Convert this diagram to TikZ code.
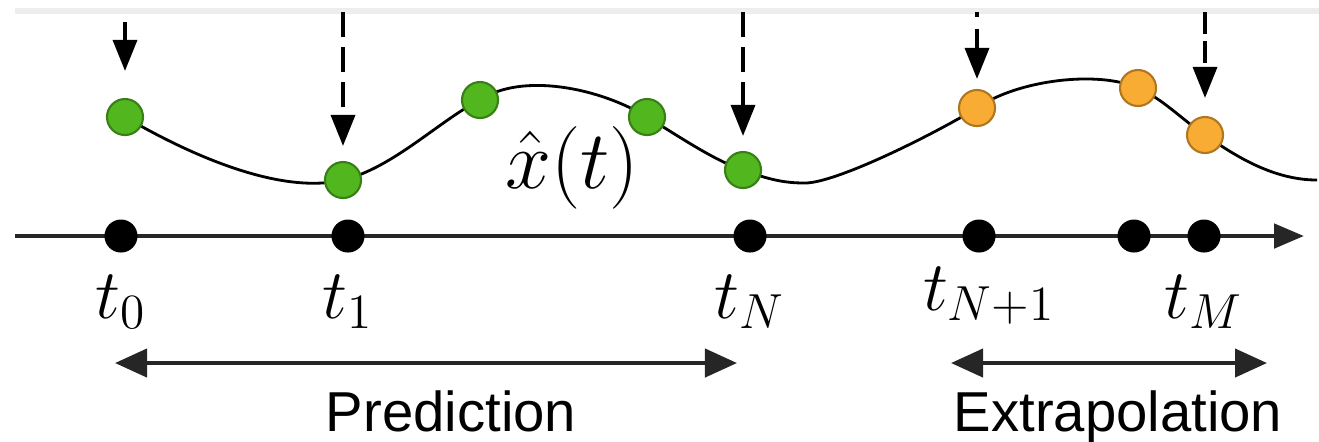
\RequirePackage{fix-cm}
\documentclass[tikz,border=0pt]{standalone}
\usepackage{fontspec}
\setsansfont{Liberation Sans}
\usepackage{amsmath}
\usetikzlibrary{arrows.meta, positioning}

\definecolor{obsgreen}{RGB}{82,182,30}
\definecolor{obsgreenline}{RGB}{56,128,22}
\definecolor{extorange}{RGB}{248,172,52}
\definecolor{extorangeline}{RGB}{176,118,32}

\begin{document}
\begin{tikzpicture}[
  x=0.01cm, y=-0.01cm,
  tdot/.style={circle, fill=black, inner sep=0pt, minimum size=0.33cm},
  obs/.style={circle, draw=obsgreenline, fill=obsgreen, line width=0.6pt, inner sep=0pt, minimum size=0.36cm},
  ext/.style={obs, draw=extorangeline, fill=extorange},
  tlabel/.style={inner sep=0pt, font=\fontsize{20}{24}\selectfont},
  axisline/.style={draw, ->, line width=1.4pt, draw=black!85, >={Triangle[length=0.3cm, width=0.24cm]}},
  signal/.style={draw, line width=0.8pt},
  query/.style={draw, ->, line width=1pt, >={Triangle[length=0.31cm, width=0.24cm]}},
  spanarrow/.style={draw, <->, line width=1.2pt, draw=black!85, >={Triangle[length=0.32cm, width=0.28cm]}},
  spanlabel/.style={anchor=base, inner sep=0pt, font=\fontsize{16}{19}\selectfont\sffamily},
]
  \useasboundingbox (0,0) rectangle (1319,441);
  \draw[black!7, line width=1.5pt] (15,11) -- (1319,11);

  % ── Time axis ──────────────────────────────
  \coordinate (axstart) at (15,236);
  \coordinate (axend) at (1304,236);
  \draw[axisline] (axstart) -- (axend);
  \node[tdot] (d0) at (121,236) {};
  \node[tdot] (d1) at (348,236) {};
  \node[tdot] (dN) at (750,236) {};
  \node[tdot] (dN1) at (979,236) {};
  \node[tdot] (dk) at (1134,236) {};
  \node[tdot] (dM) at (1204,236) {};

  \node[tlabel, below=0.21cm of d0] (l0) {$t_0$};
  \node[tlabel, below=0.21cm of d1] (l1) {$t_1$};
  \node[tlabel, below=0.21cm of dN] (lN) {$t_N$};
  \node[tlabel, below=0.13cm of dN1, xshift=0.1cm] (lN1) {$t_{N+1}$};
  \node[tlabel, below=0.21cm of dM] (lM) {$t_M$};

  % ── Latent trajectory ──────────────────────
  \coordinate (c0) at (125,117);
  \coordinate (c1) at (343,180);
  \coordinate (c2) at (480,100);
  \coordinate (c3) at (647,117);
  \coordinate (c4) at (743,170);
  \coordinate (cmin) at (805,183);
  \coordinate (c5) at (977,108);
  \coordinate (c6) at (1138,88);
  \coordinate (c7) at (1205,135);
  \coordinate (cend) at (1317,180);
  \draw[signal] (c0) .. controls (190,155) and (280,195) .. (c1)
    .. controls (393,168) and (440,120) .. (c2)
    .. controls (522,72) and (600,88) .. (c3)
    .. controls (677,135) and (713,160) .. (c4)
    .. controls (770,180) and (785,183) .. (cmin)
    .. controls (835,183) and (927,138) .. (c5)
    .. controls (1017,80) and (1098,70) .. (c6)
    .. controls (1163,99) and (1180,118) .. (c7)
    .. controls (1230,152) and (1270,180) .. (cend);

  \node[obs] (g0) at (c0) {};
  \node[obs] (g1) at (c1) {};
  \node[obs] (g2) at (c2) {};
  \node[obs] (g3) at (c3) {};
  \node[obs] (g4) at (c4) {};
  \node[ext] (e1) at (c5) {};
  \node[ext] (e2) at (c6) {};
  \node[ext] (e3) at (c7) {};

  \node[inner sep=0pt, font=\fontsize{23.5}{28}\selectfont] (xhat) at (572,168) {$\hat{x}(t)$};

  % ── Query arrows ───────────────────────────
  \coordinate (q0) at (125,22);
  \coordinate (q1) at (343,12);
  \coordinate (q2) at (743,12);
  \coordinate (q3) at (977,12);
  \coordinate (q4) at (1205,12);
  \draw[query, shorten >=0.27cm] (q0) -- (g0);
  \draw[query, dash pattern=on 0.25cm off 0.1cm, shorten >=0.15cm] (q1) -- (g1);
  \draw[query, dash pattern=on 0.25cm off 0.1cm, shorten >=0.15cm] (q2) -- (g4);
  \draw[query, dash pattern=on 0.05cm off 0.12cm on 0.6cm, shorten >=0.1cm] (q3) -- (e1);
  \draw[query, dash pattern=on 0.22cm off 0.07cm, shorten >=0.18cm] (q4) -- (e3);

  % ── Ranges ─────────────────────────────────
  \coordinate (pl) at (115,363);
  \coordinate (pr) at (737,363);
  \coordinate (el) at (951,363);
  \coordinate (er) at (1267,363);
  \draw[spanarrow] (pl) -- (pr);
  \draw[spanarrow] (el) -- (er);
  \node[spanlabel] (pred) at (451,431) {Prediction};
  \node[spanlabel] (extra) at (1118,431) {Extrapolation};
\end{tikzpicture}
\end{document}
